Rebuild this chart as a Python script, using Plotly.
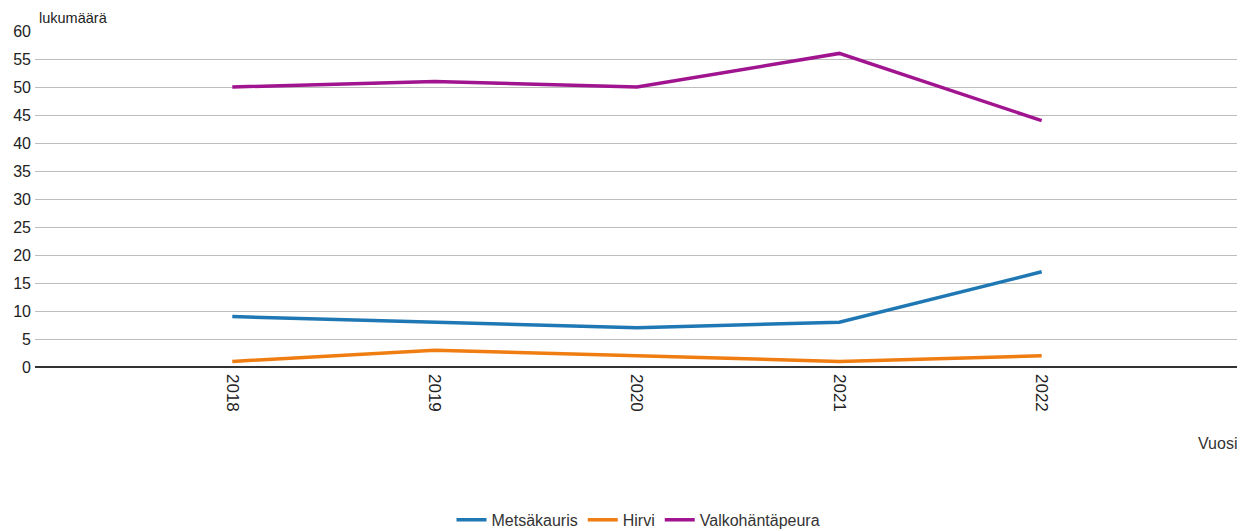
import plotly.graph_objects as go

years = ["2018", "2019", "2020", "2021", "2022"]
metsakauris = [9, 8, 7, 8, 17]
hirvi = [1, 3, 2, 1, 2]
valkohantapeura = [50, 51, 50, 56, 44]

series = [
    ("Metsäkauris", metsakauris, "#1f78b4"),
    ("Hirvi", hirvi, "#ef7d12"),
    ("Valkohäntäpeura", valkohantapeura, "#a0148f"),
]

fig = go.Figure()
for name, vals, col in series:
    fig.add_trace(go.Scatter(x=years, y=vals, name=name, mode="lines",
                             line=dict(color=col, width=3.5)))

# page body has an 8px margin: the figure is sized/placed to compensate
fig.update_layout(
    width=1237, height=523,
    margin=dict(l=27, r=3, t=23, b=164, autoexpand=False),
    paper_bgcolor="white", plot_bgcolor="white",
    font=dict(family="Liberation Sans, Arial, sans-serif", size=15, color="#222"),
    showlegend=True,
    legend=dict(orientation="h", x=0.5, xanchor="center", y=-0.455, yanchor="middle",
                font=dict(size=16, color="#333")),
    xaxis=dict(type="category", range=[-0.975, 4.99], tickangle=90, automargin=False,
               ticklabelstandoff=6,
               showgrid=False, showline=False, zeroline=False, ticks="",
               tickfont=dict(size=17, color="#222")),
    yaxis=dict(range=[0, 60], dtick=5, showgrid=True, gridcolor="#bdbdbd", gridwidth=1,
               automargin=False, ticklabelstandoff=3,
               zeroline=True, zerolinecolor="#333", zerolinewidth=2,
               showline=False, ticks="", tickfont=dict(size=16, color="#222")),
    annotations=[
        dict(text="lukumäärä", xref="paper", yref="paper", x=0.0, y=1.0,
             xanchor="left", yanchor="bottom", yshift=3, xshift=2, showarrow=False,
             font=dict(size=14.5, color="#222")),
        dict(text="Vuosi", xref="paper", yref="paper", x=1.0, y=0.0,
             xanchor="right", yanchor="middle", yshift=-76, xshift=-3, showarrow=False,
             font=dict(size=16, color="#333")),
    ],
)

fig.write_html("out.html")
